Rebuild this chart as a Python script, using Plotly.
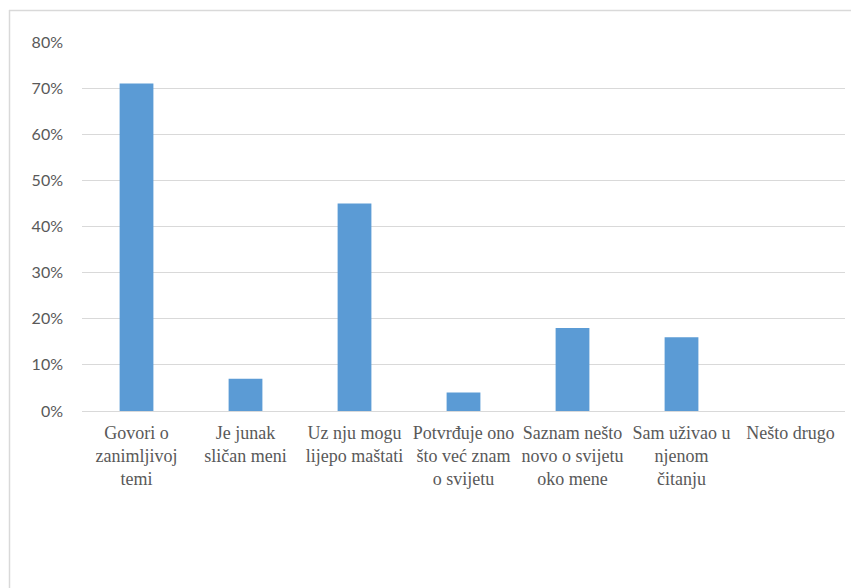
import plotly.graph_objects as go

categories = [
    "Govori o<br>zanimljivoj<br>temi",
    "Je junak<br>sličan meni",
    "Uz nju mogu<br>lijepo maštati",
    "Potvrđuje ono<br>što već znam<br>o svijetu",
    "Saznam nešto<br>novo o svijetu<br>oko mene",
    "Sam uživao u<br>njenom<br>čitanju",
    "Nešto drugo",
]
values = [71, 7, 45, 4, 18, 16, 0]
y_ticks = [0, 10, 20, 30, 40, 50, 60, 70, 80]
y_tick_labels = ["0%", "10%", "20%", "30%", "40%", "50%", "60%", "70%", "80%"]

# page body has an 8px default margin; compensate
OFF = 8
W, H = 859 - OFF, 588 - OFF
L, R, T, B = 82 - OFF, 14, 42 - OFF, 177
pw, ph = W - L - R, H - T - B

fig = go.Figure(go.Bar(x=categories, y=values, marker_color="#5b9bd5",
                       marker_line_width=0, width=0.31))

def px_to_paper_x(px):
    return (px - OFF - L) / pw

def px_to_paper_y(py):
    return (H - B - (py - OFF)) / ph

fig.update_layout(
    width=W, height=H,
    margin=dict(l=L, r=R, t=T, b=B),
    paper_bgcolor="white", plot_bgcolor="white",
    showlegend=False,
    xaxis=dict(
        tickfont=dict(family="Liberation Serif", size=18, color="#595959"),
        showgrid=False, showline=True, linecolor="#d9d9d9", linewidth=1,
        ticks="", tickangle=0, ticklabelstandoff=5,
    ),
    yaxis=dict(
        range=[0, 80], tickvals=y_ticks, ticktext=y_tick_labels,
        tickfont=dict(family="Lato", size=16, color="#595959"),
        showgrid=True, gridcolor="#d9d9d9", gridwidth=1,
        zeroline=False, showline=False, ticks="", ticklabelstandoff=18,
    ),
    shapes=[
        dict(type="line", xref="paper", yref="paper",
             x0=px_to_paper_x(9.5), x1=px_to_paper_x(9.5),
             y0=px_to_paper_y(10), y1=px_to_paper_y(600),
             line=dict(color="#d9d9d9", width=1.5)),
        dict(type="line", xref="paper", yref="paper",
             x0=px_to_paper_x(9), x1=px_to_paper_x(870),
             y0=px_to_paper_y(10.5), y1=px_to_paper_y(10.5),
             line=dict(color="#d9d9d9", width=1.5)),
    ],
)

fig.write_html("out.html")
